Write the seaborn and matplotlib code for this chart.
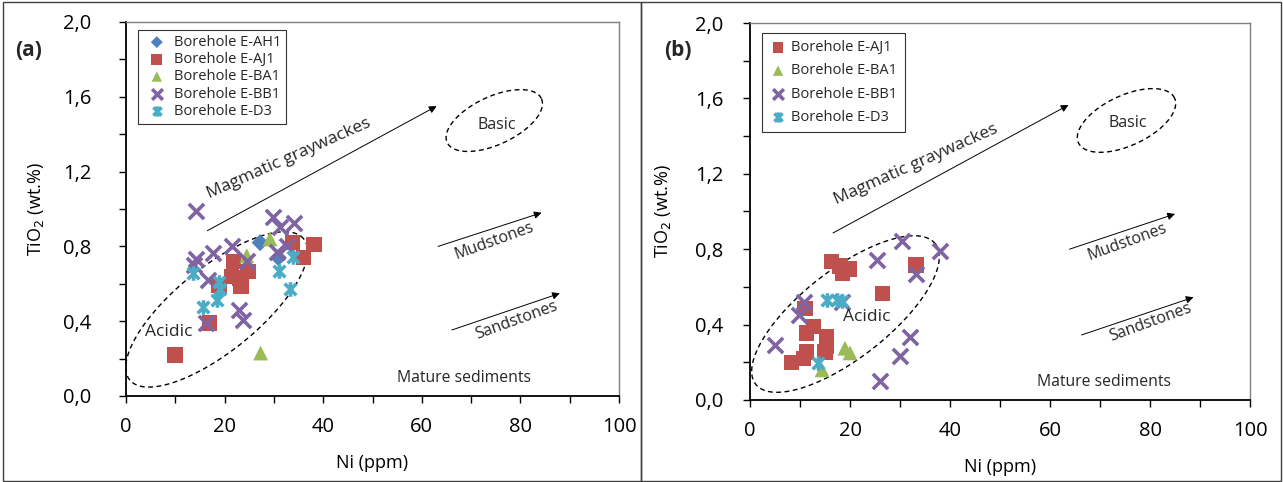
import numpy as np
import matplotlib
matplotlib.use("Agg")
import matplotlib.pyplot as plt
from matplotlib.path import Path
from matplotlib.patches import Rectangle
from matplotlib.ticker import MultipleLocator, FuncFormatter
import seaborn as sns

# ---- data: Ni (ppm) vs TiO2 (wt.%) per borehole ----
a_ah1_ni = [27.2, 30.9]
a_ah1_ti = [0.82, 0.74]
a_aj1_ni = [33.8, 38.1, 36.0, 21.8, 24.8, 21.4, 23.1, 18.9, 23.3, 16.9, 9.9]
a_aj1_ti = [0.82, 0.81, 0.74, 0.72, 0.665, 0.64, 0.63, 0.59, 0.585, 0.39, 0.22]
a_ba1_ni = [29.2, 24.5, 27.3]
a_ba1_ti = [0.84, 0.75, 0.23]
a_bb1_ni = [14.2, 29.9, 34.1, 31.2, 21.4, 17.7, 14.2, 13.7, 30.6, 32.6, 24.5, 16.7, 23.0, 23.8, 16.2]
a_bb1_ti = [0.99, 0.955, 0.925, 0.905, 0.80, 0.765, 0.73, 0.70, 0.77, 0.80, 0.72, 0.62, 0.46, 0.405, 0.39]
a_d3_ni = [13.5, 18.9, 19.1, 18.4, 15.7, 33.9, 31.1, 33.3]
a_d3_ti = [0.66, 0.61, 0.57, 0.515, 0.475, 0.745, 0.67, 0.57]

b_aj1_ni = [16.3, 18.0, 19.9, 18.5, 33.2, 26.5, 11.0, 12.7, 11.3, 15.3, 15.3, 15.0, 11.3, 10.7, 8.3]
b_aj1_ti = [0.735, 0.71, 0.695, 0.67, 0.715, 0.565, 0.485, 0.39, 0.355, 0.335, 0.285, 0.255, 0.255, 0.22, 0.20]
b_ba1_ni = [19.0, 20.0, 14.4]
b_ba1_ti = [0.275, 0.25, 0.16]
b_bb1_ni = [10.7, 9.7, 4.9, 18.3, 25.3, 30.3, 38.0, 33.2, 32.0, 29.9, 26.0]
b_bb1_ti = [0.52, 0.45, 0.29, 0.52, 0.745, 0.845, 0.79, 0.67, 0.335, 0.235, 0.10]
b_d3_ni = [15.3, 17.3, 18.3, 13.5]
b_d3_ti = [0.53, 0.53, 0.525, 0.198]

sns.set_theme(style="ticks")
plt.rcParams["font.family"] = ["Open Sans", "DejaVu Sans"]

# asterisk-like marker: diagonal cross plus a vertical bar
star_path = Path([(-1, -1), (1, 1), (-1, 1), (1, -1), (0, -1.25), (0, 1.25)],
                 [Path.MOVETO, Path.LINETO, Path.MOVETO, Path.LINETO,
                  Path.MOVETO, Path.LINETO])

styles = {
    "Borehole E-AH1": dict(color="#4F81BD", marker="D", s=75, filled=True),
    "Borehole E-AJ1": dict(color="#C0504D", marker="s", s=125, filled=True),
    "Borehole E-BA1": dict(color="#9BBB59", marker="^", s=115, filled=True),
    "Borehole E-BB1": dict(color="#8064A2", marker="x", s=120, filled=False),
    "Borehole E-D3": dict(color="#4BACC6", marker=star_path, s=110, filled=False),
}

W, H = 1283, 482
fig = plt.figure(figsize=(W / 100, H / 100), dpi=100)
ax_a = fig.add_axes([126 / W, 1 - 396 / H, (619 - 126) / W, (396 - 22) / H])
ax_b = fig.add_axes([750 / W, 1 - 400 / H, (1250 - 750) / W, (400 - 23) / H])

# chart frames
fig.patches.append(Rectangle((3 / W, 1 / H), (641 - 3) / W, (480 - 1) / H,
                             transform=fig.transFigure, fill=False,
                             ec="#404040", lw=1.0))
fig.patches.append(Rectangle((641 / W, 1 / H), (1281 - 641) / W, (480 - 1) / H,
                             transform=fig.transFigure, fill=False,
                             ec="#404040", lw=1.0))


def scatter_series(ax, name, xs, ys):
    st = styles[name]
    if st["filled"]:
        sns.scatterplot(x=xs, y=ys, ax=ax, color=st["color"], marker=st["marker"],
                        s=st["s"], edgecolor="none", linewidth=0, label=name,
                        zorder=3)
    else:
        sns.scatterplot(x=xs, y=ys, ax=ax, color=st["color"], marker=st["marker"],
                        s=st["s"], facecolor=st["color"], edgecolor=st["color"],
                        linewidth=2.6, label=name, zorder=3)


def tilted_ellipse(ax, cx, cy, a_px, b_px, angle_deg):
    # ellipse defined in screen pixels, mapped back into data units
    sx = ax.bbox.width / 100.0
    sy = ax.bbox.height / 2.0
    t = np.linspace(0, 2 * np.pi, 300)
    th = np.deg2rad(angle_deg)
    u = a_px * np.cos(t)
    v = b_px * np.sin(t)
    dx = u * np.cos(th) - v * np.sin(th)
    dy = u * np.sin(th) + v * np.cos(th)
    ax.plot(cx + dx / sx, cy + dy / sy, color="black", lw=1.0,
            linestyle=(0, (3.5, 2.5)), zorder=2)


def arrow(ax, x0, y0, x1, y1):
    ax.annotate("", xy=(x1, y1), xytext=(x0, y0),
                arrowprops=dict(arrowstyle="-|>", color="black", lw=0.7,
                                mutation_scale=11, shrinkA=0, shrinkB=0))


def style_axes(ax, ypad, ylabelpad):
    ax.set_xlim(0, 100)
    ax.set_ylim(0, 2.0)
    ax.xaxis.set_major_locator(MultipleLocator(20))
    ax.xaxis.set_minor_locator(MultipleLocator(10))
    ax.yaxis.set_major_locator(MultipleLocator(0.4))
    ax.yaxis.set_minor_locator(MultipleLocator(0.2))
    ax.xaxis.set_major_formatter(FuncFormatter(lambda v, p: f"{v:.0f}"))
    ax.yaxis.set_major_formatter(FuncFormatter(lambda v, p: f"{v:.1f}".replace(".", ",")))
    ax.tick_params(which="both", direction="out", length=5, width=1.0,
                   color="black", labelsize=14.5, labelcolor="black")
    ax.tick_params(axis="x", pad=10)
    ax.tick_params(axis="y", pad=ypad)
    for side in ["left", "bottom"]:
        ax.spines[side].set_color("black")
        ax.spines[side].set_linewidth(1.3)
    for side in ["top", "right"]:
        ax.spines[side].set_visible(True)
        ax.spines[side].set_color("#7f7f7f")
        ax.spines[side].set_linewidth(1.0)
    ax.set_xlabel("Ni (ppm)", fontsize=13, labelpad=12, color="black")
    ax.set_ylabel("TiO$_2$ (wt.%)", fontsize=13, labelpad=ylabelpad, color="black")


def annotations(ax, d):
    arrow(ax, *d["magma_arrow"])
    ax.text(*d["magma_text"], "Magmatic graywackes", rotation=24, ha="center",
            va="center", fontsize=12.5, rotation_mode="anchor")
    arrow(ax, *d["mud_arrow"])
    ax.text(*d["mud_text"], "Mudstones", rotation=20, ha="center", va="center",
            fontsize=11.5, rotation_mode="anchor")
    arrow(ax, *d["sand_arrow"])
    ax.text(*d["sand_text"], "Sandstones", rotation=20, ha="center", va="center",
            fontsize=11.5, rotation_mode="anchor")
    ax.text(*d["mature_text"], "Mature sediments", ha="center", va="center",
            fontsize=11.3)
    tilted_ellipse(ax, *d["basic_ell"])
    ax.text(*d["basic_text"], "Basic", ha="center", va="center", fontsize=11.5)
    tilted_ellipse(ax, *d["acid_ell"])
    ax.text(*d["acid_text"], "Acidic", ha="center", va="center", fontsize=12.5)


legend_kw = dict(loc="upper left", fontsize=10.5, frameon=True, fancybox=False,
                 edgecolor="black", borderaxespad=0, markerscale=0.7)

# ---- panel (a) ----
style_axes(ax_a, ypad=20, ylabelpad=12)
for name, xs, ys in [
    ("Borehole E-AH1", a_ah1_ni, a_ah1_ti),
    ("Borehole E-AJ1", a_aj1_ni, a_aj1_ti),
    ("Borehole E-BA1", a_ba1_ni, a_ba1_ti),
    ("Borehole E-BB1", a_bb1_ni, a_bb1_ti),
    ("Borehole E-D3", a_d3_ni, a_d3_ti),
]:
    scatter_series(ax_a, name, xs, ys)

annotations(ax_a, dict(
    magma_arrow=(16.5, 0.884, 63.0, 1.55),
    magma_text=(33.0, 1.27),
    mud_arrow=(63.3, 0.80, 84.3, 0.98),
    mud_text=(74.8, 0.83),
    sand_arrow=(66.1, 0.353, 88.0, 0.549),
    sand_text=(79.2, 0.405),
    mature_text=(68.6, 0.095),
    basic_ell=(74.7, 1.473, 52, 24, 25),
    basic_text=(75.3, 1.45),
    acid_ell=(18.4, 0.463, 112, 42, 39),
    acid_text=(8.6, 0.34),
))
leg_a = ax_a.legend(bbox_to_anchor=(0.024, 0.979), labelspacing=0.15,
                    borderpad=0.35, handlelength=1.9, handletextpad=0.2,
                    **legend_kw)
leg_a.get_frame().set_linewidth(0.8)

# ---- panel (b) ----
style_axes(ax_b, ypad=14, ylabelpad=16)
for name, xs, ys in [
    ("Borehole E-AJ1", b_aj1_ni, b_aj1_ti),
    ("Borehole E-BA1", b_ba1_ni, b_ba1_ti),
    ("Borehole E-BB1", b_bb1_ni, b_bb1_ti),
    ("Borehole E-D3", b_d3_ni, b_d3_ti),
]:
    scatter_series(ax_b, name, xs, ys)

annotations(ax_b, dict(
    magma_arrow=(16.6, 0.886, 63.7, 1.565),
    magma_text=(33.2, 1.25),
    mud_arrow=(63.9, 0.80, 85.0, 0.987),
    mud_text=(75.5, 0.84),
    sand_arrow=(66.3, 0.345, 88.7, 0.545),
    sand_text=(80.0, 0.41),
    mature_text=(70.8, 0.097),
    basic_ell=(75.3, 1.483, 53, 25, 25),
    basic_text=(75.5, 1.47),
    acid_ell=(19.1, 0.456, 114, 44, 38),
    acid_text=(23.3, 0.44),
))
leg_b = ax_b.legend(bbox_to_anchor=(0.024, 0.973), labelspacing=0.55,
                    borderpad=0.5, handlelength=1.2, handletextpad=0.3,
                    **legend_kw)
leg_b.get_frame().set_linewidth(0.8)

fig.text(15 / W, 1 - 50 / H, "(a)", fontsize=15, fontweight="bold", va="center")
fig.text(664 / W, 1 - 50 / H, "(b)", fontsize=15, fontweight="bold", va="center")

fig.savefig("out.png", dpi=100)
